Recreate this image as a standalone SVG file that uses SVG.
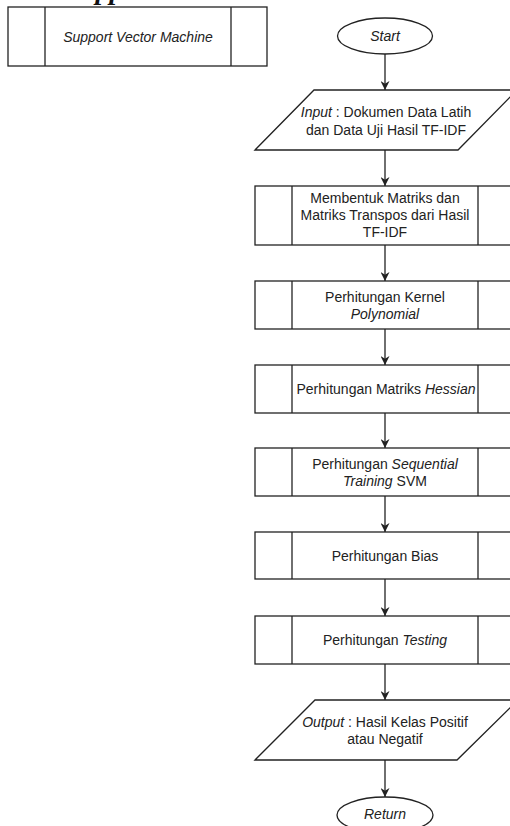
<svg xmlns="http://www.w3.org/2000/svg" width="510" height="826" viewBox="0 0 510 826">
  <defs>
    <marker id="arrow" viewBox="0 0 10 10" refX="10" refY="5" markerWidth="9" markerHeight="9" markerUnits="userSpaceOnUse" orient="auto">
      <path d="M0,0 L10,5 L0,10 L3,5 Z" fill="#222"/>
    </marker>
  </defs>
  <style>
    .shape { fill: #fff; stroke: #222; stroke-width: 1.3; }
    .div { stroke: #222; stroke-width: 1.3; }
    .lbl { font-family: "Liberation Sans", Arial, sans-serif; font-size: 14px; fill: #222; text-anchor: middle; }
    .it { font-style: italic; }
    .edge { stroke: #222; stroke-width: 1.3; fill: none; marker-end: url(#arrow); }
    .caption { font-family: "Liberation Serif", "Times New Roman", serif; font-size: 28px; font-weight: bold; font-style: italic; fill: #111; }
  </style>

  <rect width="510" height="826" fill="#fff"/>

  <!-- caption line, clipped by the top edge -->
  <text class="caption" x="69" y="-1">support vector machine</text>

  <!-- predefined process symbol for the whole routine -->
  <g id="svm-process">
    <rect class="shape" x="8" y="7" width="259" height="59"/>
    <line class="div" x1="45" y1="7" x2="45" y2="66"/>
    <line class="div" x1="231" y1="7" x2="231" y2="66"/>
    <text class="lbl it" x="138" y="42">Support Vector Machine</text>
  </g>

  <!-- connectors -->
  <g id="connectors">
    <line class="edge" x1="385" y1="54" x2="385" y2="90"/>
    <line class="edge" x1="385" y1="150" x2="385" y2="186"/>
    <line class="edge" x1="385" y1="245" x2="385" y2="281"/>
    <line class="edge" x1="385" y1="329" x2="385" y2="365"/>
    <line class="edge" x1="385" y1="413" x2="385" y2="448"/>
    <line class="edge" x1="385" y1="496" x2="385" y2="532"/>
    <line class="edge" x1="385" y1="579" x2="385" y2="616"/>
    <line class="edge" x1="385" y1="664" x2="385" y2="700"/>
    <line class="edge" x1="385" y1="760" x2="385" y2="797"/>
  </g>

  <g id="start">
    <ellipse class="shape" cx="385" cy="36" rx="47.5" ry="18"/>
    <text class="lbl it" x="385" y="41">Start</text>
  </g>

  <g id="input">
    <polygon class="shape" points="314,90 517,90 458,150 255,150"/>
    <text class="lbl" x="386" y="117"><tspan class="it">Input</tspan> : Dokumen Data Latih</text>
    <text class="lbl" x="386" y="135">dan Data Uji Hasil TF-IDF</text>
  </g>

  <g id="matriks">
    <rect class="shape" x="255" y="186" width="260" height="59"/>
    <line class="div" x1="292" y1="186" x2="292" y2="245"/>
    <line class="div" x1="478" y1="186" x2="478" y2="245"/>
    <text class="lbl" x="385" y="203">Membentuk Matriks dan</text>
    <text class="lbl" x="385" y="220">Matriks Transpos dari Hasil</text>
    <text class="lbl" x="385" y="237">TF-IDF</text>
  </g>

  <g id="kernel">
    <rect class="shape" x="255" y="281" width="260" height="48"/>
    <line class="div" x1="292" y1="281" x2="292" y2="329"/>
    <line class="div" x1="478" y1="281" x2="478" y2="329"/>
    <text class="lbl" x="385" y="302">Perhitungan Kernel</text>
    <text class="lbl it" x="385" y="319">Polynomial</text>
  </g>

  <g id="hessian">
    <rect class="shape" x="255" y="365" width="260" height="48"/>
    <line class="div" x1="292" y1="365" x2="292" y2="413"/>
    <line class="div" x1="478" y1="365" x2="478" y2="413"/>
    <text class="lbl" x="386" y="394">Perhitungan Matriks <tspan class="it">Hessian</tspan></text>
  </g>

  <g id="sequential">
    <rect class="shape" x="255" y="448" width="260" height="48"/>
    <line class="div" x1="292" y1="448" x2="292" y2="496"/>
    <line class="div" x1="478" y1="448" x2="478" y2="496"/>
    <text class="lbl" x="385" y="469">Perhitungan <tspan class="it">Sequential</tspan></text>
    <text class="lbl" x="385" y="486"><tspan class="it">Training</tspan> SVM</text>
  </g>

  <g id="bias">
    <rect class="shape" x="255" y="532" width="260" height="47"/>
    <line class="div" x1="292" y1="532" x2="292" y2="579"/>
    <line class="div" x1="478" y1="532" x2="478" y2="579"/>
    <text class="lbl" x="385" y="561">Perhitungan Bias</text>
  </g>

  <g id="testing">
    <rect class="shape" x="255" y="616" width="260" height="48"/>
    <line class="div" x1="292" y1="616" x2="292" y2="664"/>
    <line class="div" x1="478" y1="616" x2="478" y2="664"/>
    <text class="lbl" x="385" y="645">Perhitungan <tspan class="it">Testing</tspan></text>
  </g>

  <g id="output">
    <polygon class="shape" points="315,700 518,700 457,760 255,760"/>
    <text class="lbl" x="385" y="727"><tspan class="it">Output</tspan> : Hasil Kelas Positif</text>
    <text class="lbl" x="385" y="744">atau Negatif</text>
  </g>

  <g id="return">
    <ellipse class="shape" cx="385" cy="815" rx="48" ry="18"/>
    <text class="lbl it" x="385" y="819">Return</text>
  </g>
</svg>
